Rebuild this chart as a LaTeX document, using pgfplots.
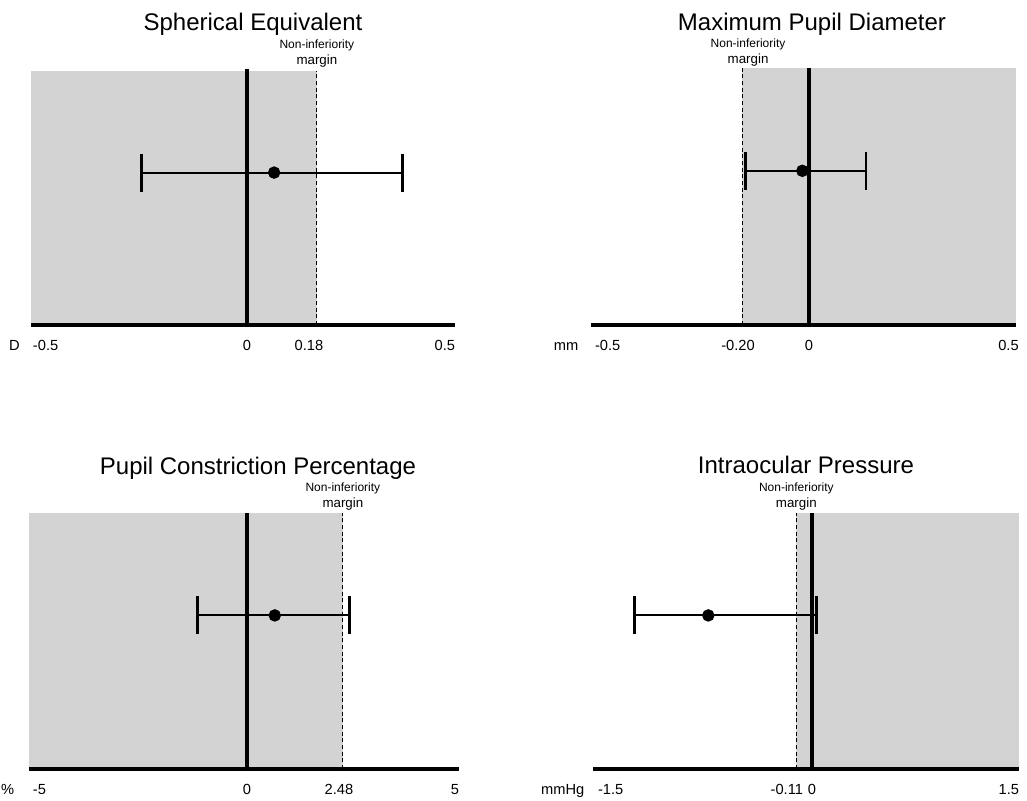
\documentclass[border=0pt]{standalone}
\usepackage{fontspec}
\setmainfont{Liberation Sans}
\usepackage{pgfplots}
\pgfplotsset{compat=1.18}
\definecolor{shade}{RGB}{211,211,211}
\pgfplotsset{
  panel/.style={
    scale only axis,
    anchor=south west,
    ymin=0, ymax=1,
    axis on top,
    axis x line=bottom,
    axis y line=none,
    x axis line style={line width=3pt,-},
    ytick=\empty,
    major tick length=0pt,
    tick style={draw=none},
    clip=false,
    xticklabel style={font=\fontsize{11}{13}\selectfont, anchor=base, yshift=-18.75pt},
    /pgf/number format/assume math mode=true,
  },
  ci/.style={black, line width=1.5pt, mark=*, mark size=3.9pt, mark options={solid,fill=black},
    error bars/.cd, x dir=both, x explicit,
    error mark=|,
    error bar style={line width=1.5pt},
    error mark options={line width=2.1pt, mark size=14.25pt}},
  zero/.style={black, line width=3pt},
  margin/.style={black, line width=0.75pt, dash pattern=on 3pt off 2pt},
}
\newcommand{\nimargin}{\fontsize{9}{10.2}\selectfont Non-inferiority\\margin}
\newcommand{\titlefont}{\fontsize{18}{20}\selectfont}
\newcommand{\unitfont}{\fontsize{11}{13}\selectfont}
\begin{document}
\begin{tikzpicture}
\useasboundingbox (0,0) rectangle (770.25pt,-600pt);

% Titles
\node[anchor=base, font=\titlefont] at (189.75pt,-22.5pt) {Spherical Equivalent};
\node[anchor=base, font=\titlefont] at (609pt,-22.5pt) {Maximum Pupil Diameter};
\node[anchor=base, font=\titlefont] at (193.5pt,-355.5pt) {Pupil Constriction Percentage};
\node[anchor=base, font=\titlefont] at (604.5pt,-354.75pt) {Intraocular Pressure};

% Panel 1: Spherical Equivalent
\begin{axis}[panel, at={(23.25pt,-243.75pt)}, width=318pt, height=190.5pt,
  xmin=-0.555, xmax=0.535,
  xtick={-0.555,0,0.18,0.535},
  xticklabels={\makebox[0pt][l]{\kern1.5pt -0.5},0,\makebox[0pt]{0.18\kern12pt},\makebox[0pt][r]{0.5}}]
  \addplot[fill=shade, draw=none] coordinates {(-0.555,1) (0.18,1)} \closedcycle;
  \addplot[margin] coordinates {(0.18,0) (0.18,1)};
  \addplot[zero] coordinates {(0,0) (0,1.008)};
  \addplot[ci] table[x=x, y=y, x error plus=ep, x error minus=em] {
    x    y    ep    em
    0.07 0.6  0.33  0.34
  };
  \node[anchor=south, align=center, inner sep=0pt, yshift=2.75pt] at (axis cs:0.18,1) {\nimargin};
  \node[anchor=base east, font=\unitfont, xshift=-5pt, yshift=-18.75pt] at (axis cs:-0.555,0) {D};
\end{axis}

% Panel 2: Maximum Pupil Diameter
\begin{axis}[panel, at={(443.25pt,-243.75pt)}, width=318.75pt, height=192.75pt,
  xmin=-0.651, xmax=0.618,
  xtick={-0.651,-0.2,0,0.618},
  xticklabels={\makebox[0pt][l]{\kern3pt -0.5},\makebox[0pt]{-0.20\kern6pt},0,\makebox[0pt][r]{0.5\kern-2pt}}]
  \addplot[fill=shade, draw=none] coordinates {(-0.2,1) (0.618,1)} \closedcycle;
  \addplot[margin] coordinates {(-0.2,0) (-0.2,1)};
  \addplot[zero] coordinates {(0,0) (0,1)};
  \addplot[ci] table[x=x, y=y, x error plus=ep, x error minus=em] {
    x     y    ep    em
    -0.02 0.6  0.19  0.17
  };
  \node[anchor=south, align=center, inner sep=0pt, yshift=0.75pt, xshift=4.5pt] at (axis cs:-0.2,1) {\nimargin};
  \node[anchor=base east, font=\unitfont, xshift=-6pt, yshift=-18.75pt] at (axis cs:-0.651,0) {mm};
\end{axis}

% Panel 3: Pupil Constriction Percentage
\begin{axis}[panel, at={(21.75pt,-576.75pt)}, width=322.5pt, height=192pt,
  xmin=-5.63, xmax=5.48,
  xtick={-5.63,0,2.48,5.48},
  xticklabels={\makebox[0pt][l]{\kern3pt -5},0,\makebox[0pt]{2.48\kern6pt},\makebox[0pt][r]{5}}]
  \addplot[fill=shade, draw=none] coordinates {(-5.63,1) (2.48,1)} \closedcycle;
  \addplot[margin] coordinates {(2.48,0) (2.48,1)};
  \addplot[zero] coordinates {(0,0) (0,1)};
  \addplot[ci] table[x=x, y=y, x error plus=ep, x error minus=em] {
    x     y    ep    em
    0.72  0.6  1.94  1.99
  };
  \node[anchor=south, align=center, inner sep=0pt, yshift=2pt] at (axis cs:2.48,1) {\nimargin};
  \node[anchor=base east, font=\unitfont, xshift=-7.5pt, yshift=-18.75pt] at (axis cs:-5.63,0) {\%};
\end{axis}

% Panel 4: Intraocular Pressure
\begin{axis}[panel, at={(444.75pt,-576.75pt)}, width=319.5pt, height=192pt,
  xmin=-1.542, xmax=1.458,
  xtick={-1.542,-0.11,0,1.458},
  xticklabels={\makebox[0pt][l]{\kern3.75pt -1.5},\makebox[0pt][r]{-0.11\kern-5pt},0,\makebox[0pt][r]{1.5}}]
  \addplot[fill=shade, draw=none] coordinates {(-0.11,1) (1.458,1)} \closedcycle;
  \addplot[margin] coordinates {(-0.11,0) (-0.11,1)};
  \addplot[zero] coordinates {(0,0) (0,1)};
  \addplot[ci] table[x=x, y=y, x error plus=ep, x error minus=em] {
    x     y    ep    em
    -0.73 0.6  0.76  0.52
  };
  \node[anchor=south, align=center, inner sep=0pt, yshift=2pt] at (axis cs:-0.11,1) {\nimargin};
  \node[anchor=base east, font=\unitfont, xshift=-3pt, yshift=-18.75pt] at (axis cs:-1.542,0) {mmHg};
\end{axis}
\end{tikzpicture}
\end{document}
